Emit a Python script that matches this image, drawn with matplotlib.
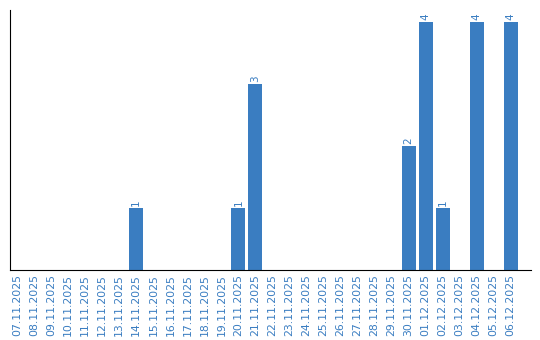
import matplotlib
matplotlib.use("Agg")
import matplotlib.pyplot as plt

dates = ["07.11.2025", "08.11.2025", "09.11.2025", "10.11.2025", "11.11.2025",
         "12.11.2025", "13.11.2025", "14.11.2025", "15.11.2025", "16.11.2025",
         "17.11.2025", "18.11.2025", "19.11.2025", "20.11.2025", "21.11.2025",
         "22.11.2025", "23.11.2025", "24.11.2025", "25.11.2025", "26.11.2025",
         "27.11.2025", "28.11.2025", "29.11.2025", "30.11.2025", "01.12.2025",
         "02.12.2025", "03.12.2025", "04.12.2025", "05.12.2025", "06.12.2025"]
counts = [0, 0, 0, 0, 0, 0, 0, 1, 0, 0,
          0, 0, 0, 1, 3, 0, 0, 0, 0, 0,
          0, 0, 0, 2, 4, 1, 0, 4, 0, 4]

blue = "#3a7dc1"

fig = plt.figure(figsize=(5.4, 3.4), dpi=100)
ax = fig.add_axes([0.0185, 0.206, 0.965, 0.765])

x = range(len(dates))
ax.bar(x, counts, width=0.82, color=blue)
for xi, c in zip(x, counts):
    if c > 0:
        ax.text(xi, c + 0.03, str(c), rotation=90, ha="center", va="bottom",
                color=blue, fontsize=7.5)

ax.set_xlim(-0.42, len(dates) + 0.2)
ax.set_ylim(0, 4.2)
ax.set_xticks(list(x))
ax.set_xticklabels(dates, rotation=90, color=blue, fontsize=7.8)
ax.tick_params(axis="x", length=0, pad=3)
ax.set_yticks([])
for s in ["top", "right"]:
    ax.spines[s].set_visible(False)

fig.savefig("out.png", dpi=100)
